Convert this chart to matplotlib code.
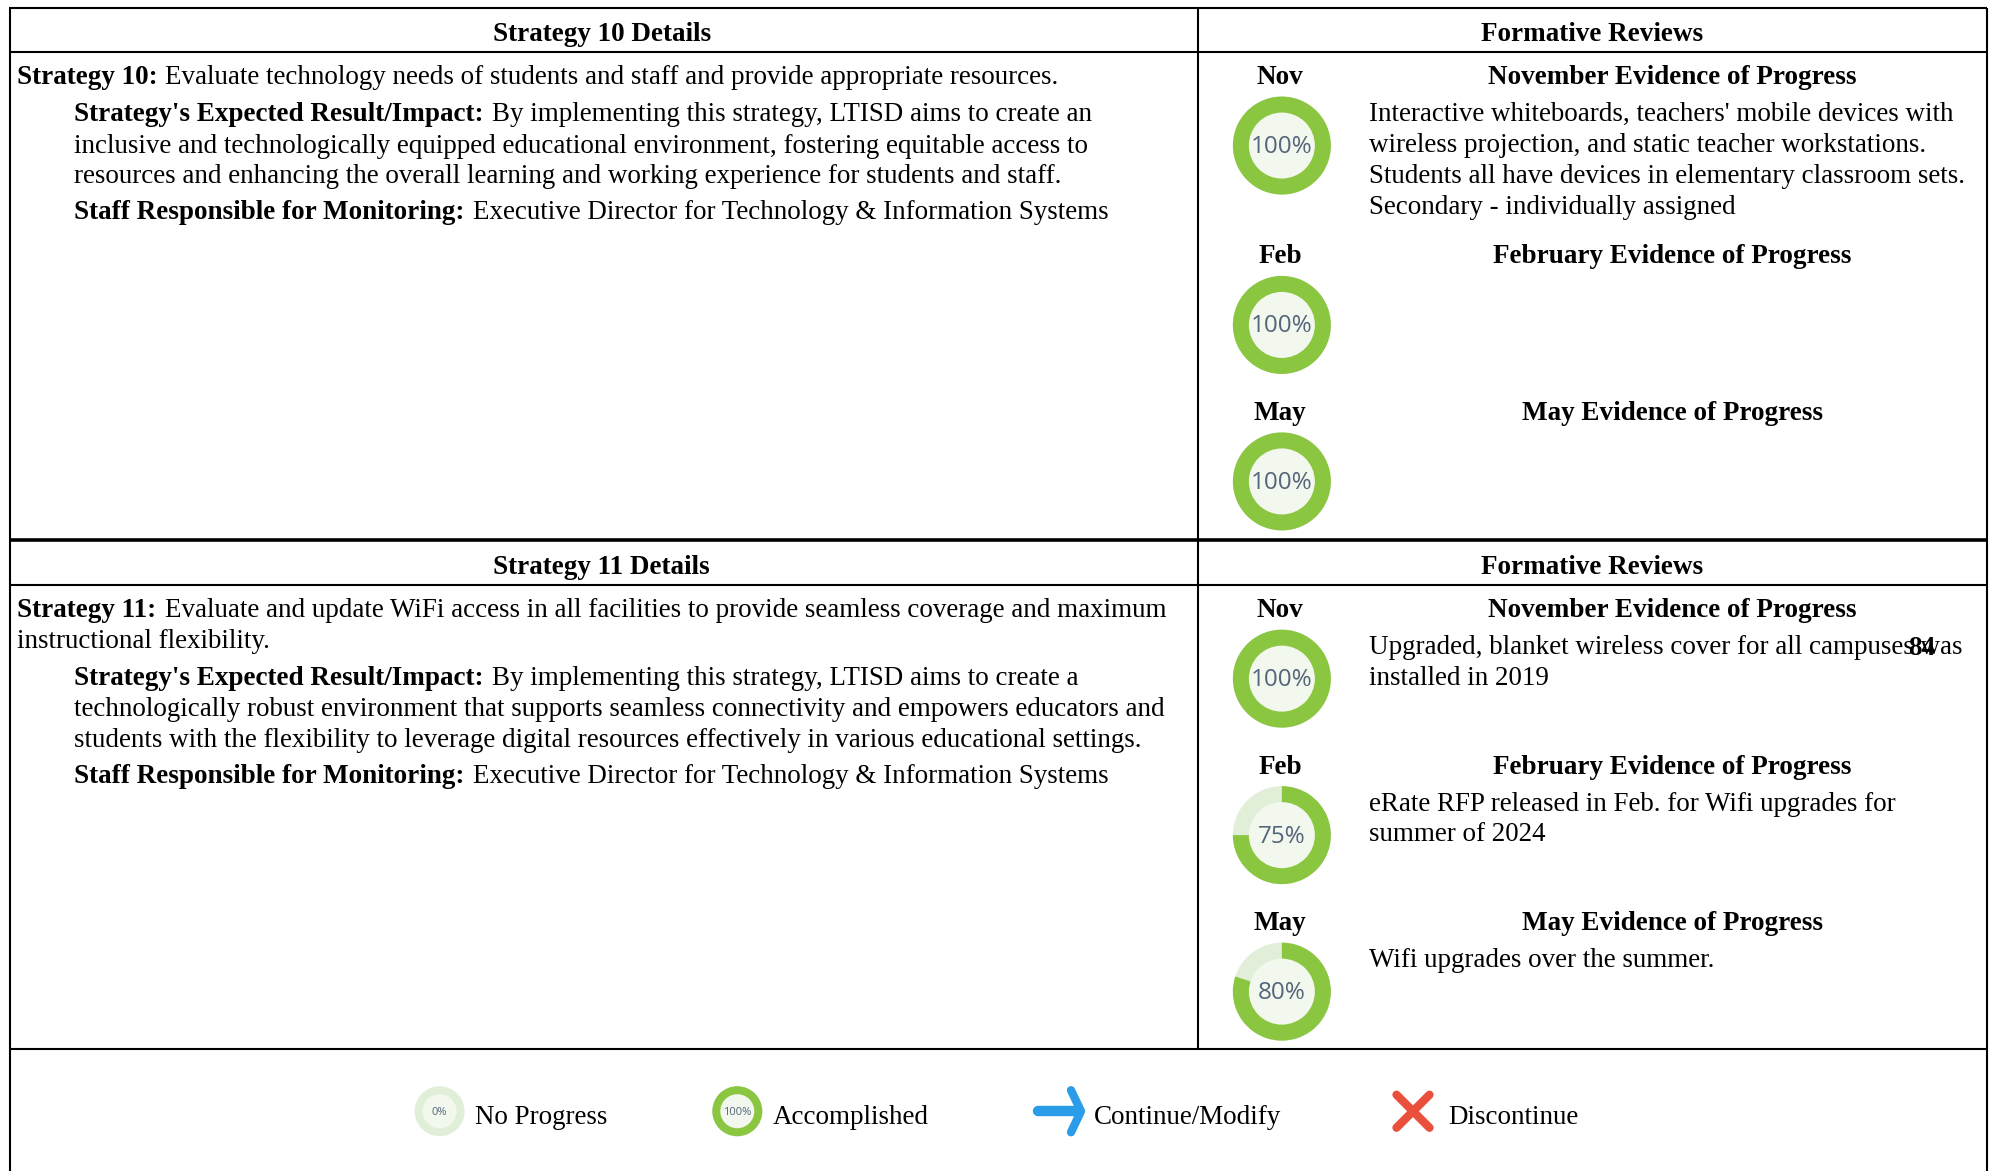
import matplotlib
matplotlib.use("Agg")
import matplotlib.pyplot as plt
from matplotlib.patches import Wedge, Circle

W, H = 1995, 1171
S = 1995 / 1568
GREEN, PALE, CORE = "#8AC640", "#E2EFD8", "#F2F8EE"
BLUE, RED = "#2B9CE8", "#EA4F3C"
SERIF = "Liberation Serif"
FS = 19.47
FS_BOLD = 19.52

strategy_titles = ["Strategy 10 Details", "Strategy 11 Details"]
review_title = "Formative Reviews"
months = ["Nov", "Feb", "May"]
evidence_titles = ["November Evidence of Progress", "February Evidence of Progress", "May Evidence of Progress"]
progress_s10 = [100, 100, 100]
progress_s11 = [100, 75, 80]

evidence_s10 = [
    ["Interactive whiteboards, teachers' mobile devices with",
     "wireless projection, and static teacher workstations.",
     "Students all have devices in elementary classroom sets.",
     "Secondary - individually assigned"],
    [], []]
evidence_s11 = [
    ["Upgraded, blanket wireless cover for all campuses was", "installed in 2019"],
    ["eRate RFP released in Feb. for Wifi upgrades for", "summer of 2024"],
    ["Wifi upgrades over the summer."]]

# (x, y, bold, regular-x, regular) in the 1568-wide reference scale
left_s10 = [
    (13, 59, "Strategy 10:", 130, "Evaluate technology needs of students and staff and provide appropriate resources."),
    (58, 88, "Strategy's Expected Result/Impact:", 386.5, "By implementing this strategy, LTISD aims to create an"),
    (58, 113, "", 58, "inclusive and technologically equipped educational environment, fostering equitable access to"),
    (58, 137, "", 58, "resources and enhancing the overall learning and working experience for students and staff."),
    (58, 165, "Staff Responsible for Monitoring:", 371.5, "Executive Director for Technology & Information Systems"),
]
left_s11 = [
    (13, 478, "Strategy 11:", 130, "Evaluate and update WiFi access in all facilities to provide seamless coverage and maximum"),
    (13, 502, "", 13, "instructional flexibility."),
    (58, 531, "Strategy's Expected Result/Impact:", 386.5, "By implementing this strategy, LTISD aims to create a"),
    (58, 556, "", 58, "technologically robust environment that supports seamless connectivity and empowers educators and"),
    (58, 580, "", 58, "students with the flexibility to leverage digital resources effectively in various educational settings."),
    (58, 608, "Staff Responsible for Monitoring:", 371.5, "Executive Director for Technology & Information Systems"),
]
legend_labels = ["No Progress", "Accomplished", "Continue/Modify", "Discontinue"]
legend_values = [0, 100]
page_number = "84"

fig = plt.figure(figsize=(W / 100, H / 100), dpi=100, facecolor="white")
ax = fig.add_axes([0, 0, 1, 1])
ax.set_xlim(0, W)
ax.set_ylim(H, 0)
ax.axis("off")


def label(x, y, s, bold=False, ha="left"):
    ax.text(x * S, y * S + 9, s, family=SERIF, fontsize=FS_BOLD if bold else FS, ha=ha, va="baseline",
            fontweight="bold" if bold else "normal", color="black")


def donut(cx, cy, value, r=49, r0=33, fs=17.5):
    ax.add_patch(Circle((cx, cy), r, fc=PALE, ec="none"))
    if value >= 100:
        ax.add_patch(Circle((cx, cy), r, fc=GREEN, ec="none"))
    elif value > 0:
        ax.add_patch(Wedge((cx, cy), r, -90, -90 + 3.6 * value, fc=GREEN, ec="none"))
    ax.add_patch(Circle((cx, cy), r0, fc=CORE, ec="none"))
    ax.text(cx, cy + 1.5, f"{value}%", family="Open Sans", fontsize=fs, color="#55657A", ha="center", va="center")


def hline(y, x0=9, x1=1987, lw=1.5):
    ax.plot([x0, x1], [y, y], color="black", lw=lw, solid_capstyle="butt")


def vline(x, y0, y1, lw=1.5):
    ax.plot([x, x], [y0, y1], color="black", lw=lw, solid_capstyle="butt")


# Grid
hline(8, lw=1.5)
hline(52, lw=1.5)
hline(540, lw=2.6)
hline(585, lw=1.5)
hline(1049, lw=1.5)
vline(10, 8, H)
vline(1987, 8, H)
vline(1198, 8, 1049)

# Panels
blocks = [
    (strategy_titles[0], 25, left_s10, progress_s10, evidence_s10, [59, 200, 323], [114, 255, 378]),
    (strategy_titles[1], 444, left_s11, progress_s11, evidence_s11, [478, 601, 724], [533, 656, 779]),
]
for title, ty, rows, progress, evidence, month_y, ring_y in blocks:
    label(473, ty, title, bold=True, ha="center")
    label(1251, ty, review_title, bold=True, ha="center")
    for x, y, bold_text, rx, reg_text in rows:
        if bold_text:
            label(x, y, bold_text, bold=True)
        label(rx, y, reg_text)
    for month, et, val, body, my, ry in zip(months, evidence_titles, progress, evidence, month_y, ring_y):
        label(1006, my, month, bold=True, ha="center")
        label(1314.5, my, et, bold=True, ha="center")
        donut(1007.5 * S, ry * S + 0.5, val)
        for i, line in enumerate(body):
            label(1076, my + 29 + i * 24.3, line)

label(1510, 508, page_number, bold=True, ha="center")

# Legend
ly = 873 * S + 0.5
donut(345.5 * S, ly, legend_values[0], r=25, r0=17, fs=8)
donut(579.5 * S, ly, legend_values[1], r=25, r0=17, fs=8)
for x, s in zip([373, 607, 860, 1138], legend_labels):
    label(x, 876, s)

# Continue/Modify arrow
ax_x = 1078
ax.plot([1038, ax_x], [ly, ly], color=BLUE, lw=7.5, solid_capstyle="round")
ax.plot([1071, ax_x + 3, 1071], [ly - 21, ly, ly + 21], color=BLUE, lw=6, solid_capstyle="round", solid_joinstyle="round")

# Discontinue cross
xc, d = 1413, 16.5
ax.plot([xc - d, xc + d], [ly - d, ly + d], color=RED, lw=6, solid_capstyle="round")
ax.plot([xc - d, xc + d], [ly + d, ly - d], color=RED, lw=6, solid_capstyle="round")

fig.savefig("out.png", dpi=100, facecolor="white")
